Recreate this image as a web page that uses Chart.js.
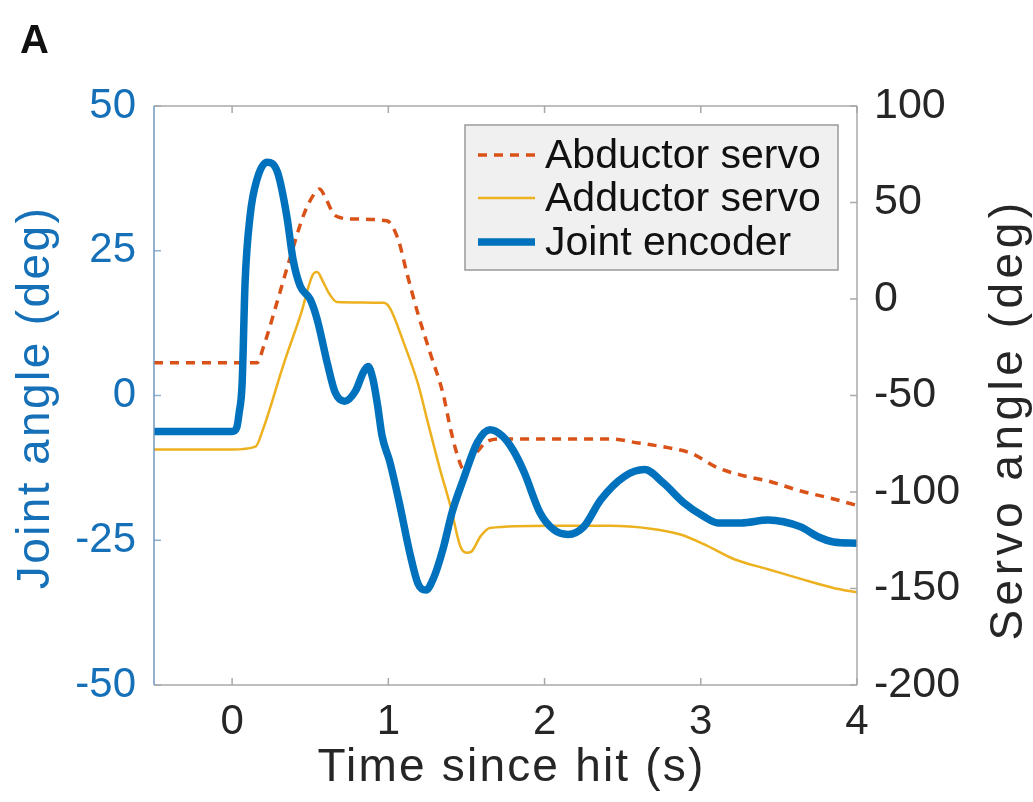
<!DOCTYPE html>
<html><head><meta charset="utf-8">
<script src="https://cdn.jsdelivr.net/npm/chart.js@4.4.1/dist/chart.umd.min.js"></script>
<style>html,body{margin:0;padding:0;background:#fff}canvas{display:block}</style>
</head><body>
<canvas id="c" width="1033" height="802"></canvas>
<script>
// ---- data ----
const xTicks = [0, 1, 2, 3, 4];
const leftTicks = [-50, -25, 0, 25, 50];
const rightTicks = [-200, -150, -100, -50, 0, 50, 100];

const jointT   = [-0.5, 0.0, 0.03, 0.045, 0.064, 0.083, 0.115, 0.16, 0.224, 0.29, 0.35, 0.39, 0.436, 0.5, 0.545, 0.61, 0.66, 0.72, 0.79, 0.84, 0.87, 0.9, 0.93, 0.96, 1.01, 1.07, 1.14, 1.19, 1.24, 1.29, 1.35, 1.41, 1.48, 1.57, 1.65, 1.73, 1.8, 1.87, 1.97, 2.06, 2.15, 2.25, 2.36, 2.51, 2.64, 2.76, 2.89, 3.02, 3.11, 3.26, 3.43, 3.53, 3.64, 3.75, 3.85, 4.0];
const jointDeg = [-6.2, -6.2, -5.5, -3, 2, 19.5, 31, 37.4, 40.3, 38.6, 31, 23.5, 18.9, 16.6, 13.1, 5.5, 0.5, -1, 0.8, 4, 5, 3, -1.5, -7, -11.5, -18.5, -27.5, -32.5, -33.6, -31.5, -26.5, -20, -14.5, -8.1, -5.9, -7, -9.5, -13.3, -20.2, -23.2, -24.0, -22.7, -18, -14, -12.8, -15.1, -18.5, -20.9, -22, -22, -21.5, -21.8, -22.7, -24.4, -25.3, -25.5];

const abdT   = [-0.5, 0.16, 0.2, 0.29, 0.37, 0.46, 0.53, 0.56, 0.6, 0.65, 0.7, 0.76, 0.99, 1.06, 1.12, 1.19, 1.27, 1.35, 1.4, 1.45, 1.48, 1.52, 1.57, 1.63, 1.72, 2.42, 2.6, 2.79, 2.94, 3.11, 3.28, 3.43, 3.64, 3.85, 4.0];
const abdDeg = [-33, -33, -25, -1, 21, 44, 55, 57, 52, 44, 42, 41.5, 40.5, 31.6, 13, -7.8, -28.5, -49, -68, -83, -88, -84, -79, -74, -72.5, -72.5, -74.6, -77, -80, -87.5, -91.7, -94.3, -99.5, -103.6, -107];

const addT   = [-0.5, 0.0, 0.15, 0.2, 0.33, 0.44, 0.52, 0.545, 0.58, 0.62, 0.67, 0.97, 1.01, 1.1, 1.19, 1.25, 1.33, 1.4, 1.46, 1.5, 1.53, 1.59, 1.65, 2.04, 2.42, 2.68, 2.87, 3.02, 3.21, 3.43, 3.64, 3.85, 4.0];
const addDeg = [-78, -78, -76.5, -67, -33.7, -7.8, 13, 14, 9.3, 3, -1.5, -2, -4.7, -23, -44, -63, -88, -108, -128, -131.5, -131, -123, -118.6, -117.5, -117.5, -119, -122, -127, -134.7, -140, -145, -149.7, -152];

const labels = ['Abductor servo', 'Adductor servo', 'Joint encoder'];
const colors = ['#D95319', '#EDB120', '#0072BD'];
const xTitle = 'Time since hit (s)';
const leftTitle = 'Joint angle (deg)';
const rightTitle = 'Servo angle (deg)';
const panelLetter = 'A';

const pts = (t, v) => t.map((x, i) => ({x, y: v[i]}));

const FONT = "'Liberation Sans', Arial, Helvetica, sans-serif";
const BLUE_TXT = '#1570b8';
const DARK = '#262626';

const framePlugin = {
  id: 'frame',
  afterDatasetsDraw(chart) {
    const {ctx, chartArea: a, scales} = chart;
    const L = 7;
    const seg = (x1, y1, x2, y2) => { ctx.beginPath(); ctx.moveTo(x1, y1); ctx.lineTo(x2, y2); ctx.stroke(); };
    ctx.save();
    ctx.lineWidth = 1.5;
    ctx.strokeStyle = '#a8a8a8';
    xTicks.forEach(v => {
      const p = scales.x.getPixelForValue(v);
      seg(p, a.bottom, p, a.bottom - L);
      seg(p, a.top, p, a.top + L);
    });
    rightTicks.forEach(v => {
      const p = scales.y1.getPixelForValue(v);
      seg(a.right, p, a.right - L, p);
    });
    ctx.strokeStyle = '#8fb0d2';
    leftTicks.forEach(v => {
      const p = scales.y.getPixelForValue(v);
      seg(a.left, p, a.left + L, p);
    });
    ctx.strokeStyle = '#a8a8a8';
    seg(a.left, a.top, a.right, a.top);
    seg(a.left, a.bottom, a.right, a.bottom);
    seg(a.right, a.top, a.right, a.bottom);
    ctx.strokeStyle = '#7098c0';
    seg(a.left, a.top, a.left, a.bottom);
    ctx.restore();
  },
  afterDraw(chart) {
    const {ctx, chartArea: a} = chart;
    ctx.save();
    // panel letter
    ctx.fillStyle = '#111';
    ctx.font = 'bold 40px ' + FONT;
    ctx.textBaseline = 'alphabetic';
    ctx.textAlign = 'left';
    ctx.fillText(panelLetter, 20, 53);

    // axis titles
    ctx.font = '46px ' + FONT;
    ctx.textAlign = 'center';
    ctx.textBaseline = 'middle';
    ctx.fillStyle = DARK;
    ctx.letterSpacing = '2.2px';
    ctx.fillText(xTitle, (a.left + a.right) / 2 + 6, 768);
    ctx.save();
    ctx.translate(36, (a.top + a.bottom) / 2 + 2);
    ctx.rotate(-Math.PI / 2);
    ctx.fillStyle = BLUE_TXT;
    ctx.letterSpacing = '2.4px';
    ctx.fillText(leftTitle, 0, 0);
    ctx.restore();
    ctx.save();
    ctx.translate(1009, (a.top + a.bottom) / 2 + 24);
    ctx.rotate(-Math.PI / 2);
    ctx.fillStyle = DARK;
    ctx.letterSpacing = '4.5px';
    ctx.fillText(rightTitle, 0, 0);
    ctx.restore();
    ctx.letterSpacing = '0px';

    // legend
    const bx = a.right - 19 - 373, by = a.top + 19, bw = 373, bh = 145;
    ctx.fillStyle = '#f0f0f0';
    ctx.fillRect(bx, by, bw, bh);
    ctx.strokeStyle = '#9a9a9a';
    ctx.lineWidth = 1.5;
    ctx.strokeRect(bx, by, bw, bh);
    ctx.font = '41px ' + FONT;
    ctx.textAlign = 'left';
    ctx.textBaseline = 'middle';
    const rowY = [by + 30, by + 73, by + 117];
    chart.data.datasets.forEach((ds, i) => {
      const y = rowY[i];
      ctx.save();
      ctx.strokeStyle = ds.borderColor;
      ctx.lineWidth = ds.borderWidth;
      ctx.setLineDash(ds.borderDash || []);
      ctx.beginPath(); ctx.moveTo(bx + 13, y); ctx.lineTo(bx + 70, y); ctx.stroke();
      ctx.restore();
      ctx.fillStyle = '#111';
      ctx.fillText(ds.label, bx + 80, y + 2);
    });
    ctx.restore();
  }
};

new Chart(document.getElementById('c'), {
  type: 'line',
  data: {
    datasets: [
      {label: labels[0], data: pts(abdT, abdDeg), yAxisID: 'y1', borderColor: colors[0], borderWidth: 3.5, borderDash: [9, 7], pointRadius: 0, cubicInterpolationMode: 'monotone', fill: false, order: 2},
      {label: labels[1], data: pts(addT, addDeg), yAxisID: 'y1', borderColor: colors[1], borderWidth: 2.5, pointRadius: 0, cubicInterpolationMode: 'monotone', fill: false, order: 1},
      {label: labels[2], data: pts(jointT, jointDeg), yAxisID: 'y', borderColor: colors[2], borderWidth: 7.5, pointRadius: 0, cubicInterpolationMode: 'monotone', fill: false, order: 0, borderCapStyle: 'round', borderJoinStyle: 'round'}
    ]
  },
  options: {
    responsive: false,
    animation: false,
    events: [],
    layout: {padding: {top: 106, left: 0, right: 0, bottom: 0}},
    plugins: {legend: {display: false}, tooltip: {enabled: false}},
    scales: {
      x: {
        type: 'linear', min: -0.5, max: 4,
        afterBuildTicks: s => { s.ticks = xTicks.map(v => ({value: v})); },
        afterFit: s => { s.height = 117; },
        grid: {display: false, drawTicks: false},
        border: {display: false},
        ticks: {color: DARK, font: {family: FONT, size: 42}, padding: 12, maxRotation: 0},
        title: {display: false}
      },
      y: {
        type: 'linear', position: 'left', min: -50, max: 50,
        afterBuildTicks: s => { s.ticks = leftTicks.map(v => ({value: v})); },
        afterFit: s => { s.width = 154; },
        grid: {display: false, drawTicks: false},
        border: {display: false},
        ticks: {color: BLUE_TXT, font: {family: FONT, size: 42}, padding: 18},
        title: {display: false}
      },
      y1: {
        type: 'linear', position: 'right', min: -200, max: 100,
        afterBuildTicks: s => { s.ticks = rightTicks.map(v => ({value: v})); },
        afterFit: s => { s.width = 176; },
        grid: {display: false, drawTicks: false},
        border: {display: false},
        ticks: {color: DARK, font: {family: FONT, size: 43}, padding: 17},
        title: {display: false}
      }
    }
  },
  plugins: [framePlugin]
});
</script>
</body></html>
